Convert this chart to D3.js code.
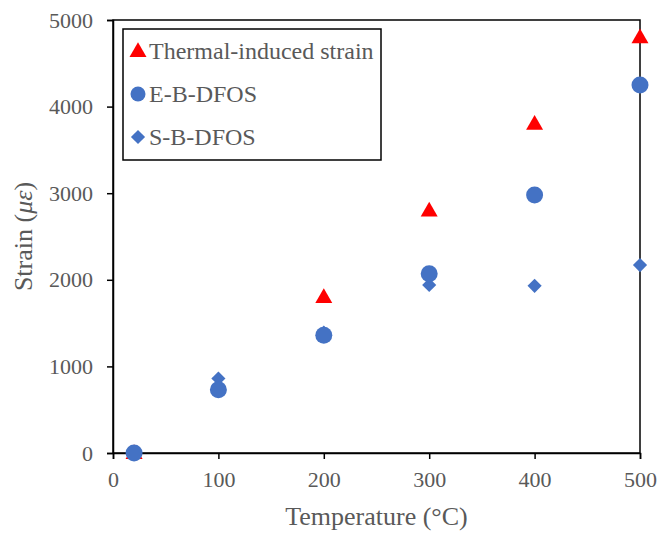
<!DOCTYPE html>
<html lang="en">
<head>
<meta charset="UTF-8">
<title>Strain vs Temperature</title>
<script src="https://cdn.jsdelivr.net/npm/d3@7"></script>
<style>
  body { margin: 0; padding: 0; background: #fff; overflow: hidden; }
  text { font-family: "Liberation Serif", "Times New Roman", serif; fill: #595959; }
</style>
</head>
<body>
<div id="chart"></div>
<script>
const temps = [20, 100, 200, 300, 400, 500];
const thermalTemps = [20, 200, 300, 400, 500];
const thermalStrain = [0, 1800, 2800, 3800, 4800];
const ebStrain = [0, 730, 1360, 2070, 2980, 4250];
const sbStrain = [0, 860, 1390, 1940, 1930, 2170];
const xTicks = [0, 100, 200, 300, 400, 500];
const yTicks = [0, 1000, 2000, 3000, 4000, 5000];

const width = 661, height = 535;
const margin = { left: 113, right: 21, top: 20, bottom: 82 };

const svg = d3.select('#chart').append('svg')
  .attr('width', width)
  .attr('height', height);

const x = d3.scaleLinear().domain([0, 500]).range([margin.left, width - margin.right]);
const y = d3.scaleLinear().domain([0, 5000]).range([height - margin.bottom, margin.top]);

// plot frame
svg.append('rect')
  .attr('x', x(0)).attr('y', y(5000))
  .attr('width', x(500) - x(0)).attr('height', y(0) - y(5000))
  .attr('fill', 'none').attr('stroke', '#000').attr('stroke-width', 1.5);

const xAxis = svg.append('g')
  .attr('transform', `translate(0,${y(0)})`)
  .call(d3.axisBottom(x).tickValues(xTicks).tickSize(6).tickPadding(12));
const yAxis = svg.append('g')
  .attr('transform', `translate(${x(0)},0)`)
  .call(d3.axisLeft(y).tickValues(yTicks).tickFormat(d3.format('d')).tickSize(6).tickPadding(14));

[xAxis, yAxis].forEach(a => {
  a.selectAll('.domain').attr('stroke', '#000').attr('stroke-width', 1.5);
  a.selectAll('.tick line').attr('stroke', '#000').attr('stroke-width', 1.5);
  a.selectAll('.tick text')
    .style('font-family', '"Liberation Serif", "Times New Roman", serif')
    .style('font-size', '22px')
    .attr('fill', '#595959');
});

// axis titles
svg.append('text')
  .attr('x', (x(0) + x(500)) / 2).attr('y', 525)
  .attr('text-anchor', 'middle')
  .style('font-size', '26px')
  .text('Temperature (°C)');

const yt = svg.append('text')
  .attr('transform', `translate(32,${(y(0) + y(5000)) / 2}) rotate(-90)`)
  .attr('text-anchor', 'middle')
  .style('font-size', '26px');
yt.append('tspan').text('Strain (');
yt.append('tspan').style('font-style', 'italic').text('με');
yt.append('tspan').text(')');

const blue = '#4472C4', red = '#FF0000';
const tri = d3.symbol().type(d3.symbolTriangle).size(125);
const dia = d3.symbol().type(d3.symbolSquare).size(100);

// S-B-DFOS diamonds
svg.append('g').selectAll('path')
  .data(temps.map((t, i) => [t, sbStrain[i]]))
  .enter().append('path')
  .attr('d', dia)
  .attr('transform', d => `translate(${x(d[0])},${y(d[1])}) rotate(45)`)
  .attr('fill', blue);

// thermal triangles
svg.append('g').selectAll('path')
  .data(thermalTemps.map((t, i) => [t, thermalStrain[i]]))
  .enter().append('path')
  .attr('d', tri)
  .attr('transform', d => `translate(${x(d[0])},${y(d[1]) + 1})`)
  .attr('fill', red);

// E-B-DFOS circles
svg.append('g').selectAll('circle')
  .data(temps.map((t, i) => [t, ebStrain[i]]))
  .enter().append('circle')
  .attr('cx', d => x(d[0]))
  .attr('cy', d => y(d[1]))
  .attr('r', 8.5)
  .attr('fill', blue);

// legend
const lg = svg.append('g');
lg.append('rect')
  .attr('x', 123).attr('y', 29).attr('width', 258).attr('height', 131)
  .attr('fill', '#fff').attr('stroke', '#000').attr('stroke-width', 1.5);
const items = [
  { label: 'Thermal-induced strain', shape: 'tri' },
  { label: 'E-B-DFOS', shape: 'circle' },
  { label: 'S-B-DFOS', shape: 'dia' }
];
items.forEach((it, i) => {
  const cy = 51 + i * 43;
  const cx = 138;
  if (it.shape === 'tri') {
    lg.append('path').attr('d', tri).attr('transform', `translate(${cx},${cy + 1})`).attr('fill', red);
  } else if (it.shape === 'circle') {
    lg.append('circle').attr('cx', cx).attr('cy', cy).attr('r', 7.5).attr('fill', blue);
  } else {
    lg.append('path').attr('d', dia).attr('transform', `translate(${cx},${cy}) rotate(45)`).attr('fill', blue);
  }
  lg.append('text')
    .attr('x', 149).attr('y', cy + 8)
    .style('font-size', '24px')
    .text(it.label);
});
</script>
</body>
</html>
